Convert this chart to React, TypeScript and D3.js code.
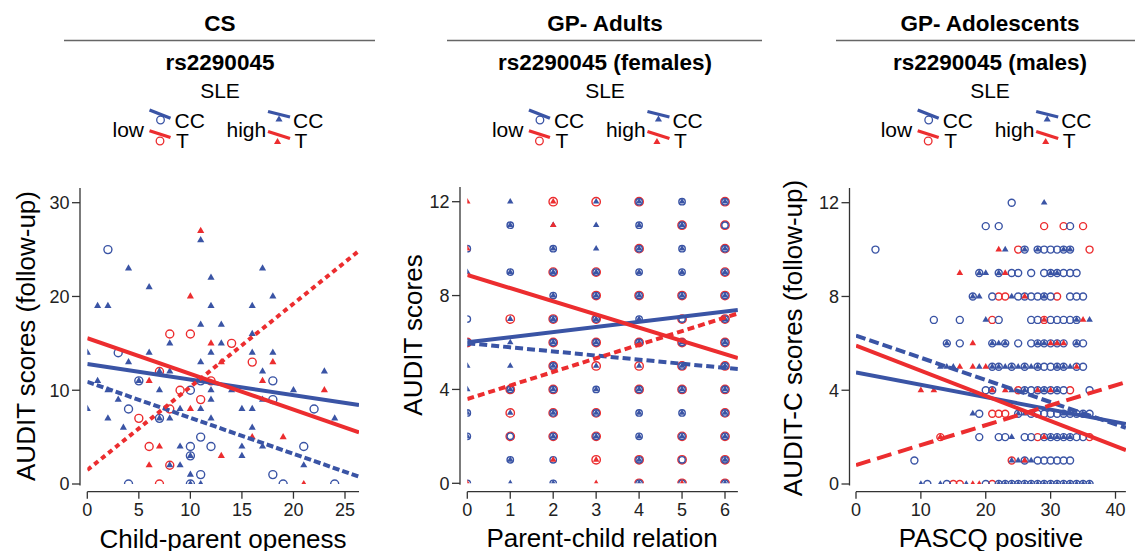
import React from 'react';
import * as d3 from 'd3';

type Pt = [number, number];
type Rows = [number, number[]][];

const BLUE = '#3A54A5';
const RED = '#EC2D2F';
const FONT = '"Liberation Sans", Arial, Helvetica, sans-serif';

// ---------------- Panel 1: CS ----------------
const csLowCC: Pt[] = [
  [2, 25], [3, 14], [4, 8], [4, 0], [5, 11], [7, 7], [10, 10], [10, 4], [10, 3], [10, 0],
  [11, 11], [11, 5], [11, 1], [12, 4], [18, 11], [18, 9], [18, 1], [19, 0], [21, 4], [22, 8], [24, 0],
];
const csLowT: Pt[] = [
  [5, 7], [6, 4], [7, 12], [7, 0], [8, 16], [8, 8], [8, 2], [9, 10], [10, 16], [11, 9], [12, 11], [14, 15], [16, 13],
];
const csHighCC: Pt[] = [
  [0, 14], [0, 8], [1, 11], [1, 19], [2, 19], [2, 10], [2, 7], [3, 9], [3.5, 6], [4, 23], [4, 13], [5, 11],
  [6, 21], [6, 14], [7, 12], [7, 10], [7, 7], [8, 15], [8, 12], [8, 7], [8, 2], [9, 8], [9, 4], [9, 2],
  [10, 3], [10, 1], [10, 0], [11, 26], [11, 17], [11, 13], [11, 8], [11, 0], [12, 22], [12, 19], [12, 14],
  [12, 10], [12, 9], [12, 7], [13, 17], [13, 15], [14, 10], [15, 8], [15, 4], [15, 3], [16, 19], [16, 16],
  [16, 14], [16, 8], [16, 6], [17, 23], [17, 12], [17, 9], [17, 4], [18, 20], [18, 14], [20, 10], [21, 2],
  [23, 12], [24, 7],
];
const csHighT: Pt[] = [
  [6, 11], [6, 2], [7, 4], [10, 20], [10, 8], [11, 27], [12, 15], [13, 13], [13, 3], [16, 5], [17, 11],
  [18, 13], [19, 5], [21, 0], [23, 10],
];
const csXTicks = [0, 5, 10, 15, 20, 25];
const csYTicks = [0, 10, 20, 30];
// [intercept, slope]
const csFitLowCC: Pt = [10.9, -0.384];
const csFitLowT: Pt = [1.49, 0.887];
const csFitHighCC: Pt = [12.8, -0.166];
const csFitHighT: Pt = [15.55, -0.381];

// ---------------- Panel 2: GP- Adults ----------------
const adLowTRows: Rows = [
  [12, [2, 3, 4, 6]], [11, [5, 6]], [10, [4, 6]], [9, [2, 3, 6]], [8, [3, 4, 5, 6]], [7, [1, 2, 3, 5, 6]],
  [6, [0, 2, 3, 4, 5, 6]], [5, [2, 3, 4, 5, 6]], [4, [1, 2, 4, 5, 6]], [3, [1, 2, 3, 6]], [2, [1, 2, 3, 5, 6]],
  [1, [3, 4, 5, 6]], [0, [4, 5, 6]],
];
const adLowCCRows: Rows = [
  [12, [4, 5, 6]], [11, [1, 4, 5, 6]], [10, [0, 2, 4, 5, 6]], [9, [1, 2, 3, 4, 5, 6]], [8, [2, 3, 4, 5, 6]],
  [7, [0, 2, 3, 4, 5, 6]], [6, [0, 2, 3, 4, 5, 6]], [5, [2, 5, 6]], [4, [1, 2, 3, 4, 5, 6]],
  [3, [0, 2, 3, 4, 5, 6]], [2, [0, 1, 2, 3, 4, 5, 6]], [1, [1, 2, 4, 5, 6]], [0, [0, 2, 4, 5, 6]],
];
const adHighCCRows: Rows = [
  [12, [1, 3, 4, 5, 6]], [11, [1, 2, 3, 4, 5]], [10, [2, 3, 4, 5, 6]], [9, [0, 1, 2, 3, 4, 5, 6]],
  [8, [2, 3, 4, 5, 6]], [7, [1, 2, 3, 4, 6]], [6, [1, 2, 3, 4, 5, 6]], [5, [0, 1, 2, 3, 4, 5, 6]],
  [4, [0, 1, 2, 3, 4, 5, 6]], [3, [0, 1, 2, 3, 4, 5, 6]], [2, [0, 2, 3, 4, 5, 6]], [1, [1, 4, 6]], [0, [1, 2, 4, 6]],
];
const adHighTRows: Rows = [
  [12, [0, 2]], [11, [2]], [10, [0]], [1, [2, 3]], [0, [0, 3, 5]],
];
const adXTicks = [0, 1, 2, 3, 4, 5, 6];
const adYTicks = [0, 4, 8, 12];
const adFitLowCC: Pt = [5.97, -0.175];
const adFitLowT: Pt = [3.59, 0.579];
const adFitHighCC: Pt = [6.01, 0.219];
const adFitHighT: Pt = [8.88, -0.563];

// ---------------- Panel 3: GP- Adolescents ----------------
const aoLowCCRows: Rows = [
  [12, [24]], [11, [20, 22, 33]], [10, [3, 26, 28, 29, 30, 31, 32, 33]],
  [9, [19, 22, 24, 25, 27, 29, 30, 31, 32, 33, 34]], [8, [18, 21, 25, 26, 27, 28, 29, 30, 33, 34, 35]],
  [7, [12, 16, 22, 27, 28, 30, 31, 32, 33, 34]], [6, [14, 16, 21, 23, 25, 27, 28, 29, 30, 31, 32, 34, 35]],
  [5, [21, 22, 24, 26, 28, 29, 30, 31, 32, 34, 35]], [4, [20, 21, 26, 27, 28, 29, 30, 31, 32, 36]],
  [3, [19, 25, 27, 28, 29, 30, 31, 32, 33, 34, 35, 36]], [2, [19, 22, 23, 26, 27, 29, 30, 31, 32, 33, 34, 35]],
  [1, [9, 26, 28, 29, 30, 31, 32, 33]],
  [0, [11, 14, 20, 22, 23, 24, 25, 26, 27, 28, 29, 30, 31, 32, 33, 34, 35, 36]],
];
const aoLowTRows: Rows = [
  [11, [29, 32, 35]], [10, [25, 36]], [8, [22, 23, 31]], [7, [21, 29]], [4, [25, 33]], [3, [21, 22, 23]],
  [2, [13, 28, 36]], [1, [24]], [0, [15, 16, 21]],
];
const aoHighCCRows: Rows = [
  [12, [29]], [10, [23, 26, 28, 32, 33]], [9, [19, 20, 22, 30, 31]], [8, [18, 19, 24, 29]], [7, [20, 34, 36]],
  [6, [14, 21, 22, 23, 28, 29, 31, 34]], [5, [13, 14, 15, 19, 21, 22, 23, 24, 25, 26, 27, 28, 31, 32, 33]],
  [4, [21, 24, 26, 28, 29, 31]], [3, [18, 25, 26, 32, 33]], [2, [24, 30, 31, 32, 33]], [1, [24, 25, 26, 27]],
  [0, [10, 13, 17, 22, 23, 24, 25, 26, 27, 28, 29, 30, 31, 32, 33, 34, 35, 36]],
];
const aoHighTRows: Rows = [
  [10, [22]], [9, [16, 23]], [8, [26]], [7, [29, 35]], [6, [18, 30, 31, 32]], [5, [16, 18, 20, 34]],
  [4, [10, 12, 21, 23, 28, 30]], [2, [13, 29]], [1, [26]], [0, [18, 19]],
];
const aoXTicks = [0, 10, 20, 30, 40];
const aoYTicks = [0, 4, 8, 12];
const aoFitLowCC: Pt = [6.33, -0.0946];
const aoFitLowT: Pt = [0.81, 0.085];
const aoFitHighCC: Pt = [4.76, -0.0528];
const aoFitHighT: Pt = [5.9, -0.107];

const expand = (rows: Rows): Pt[] => rows.flatMap(([yv, xs]) => xs.map((xv) => [xv, yv] as Pt));

const panels = [
  {
    key: 'cs', title: 'CS', sub: 'rs2290045', hdrCx: 220, hdrLine: [64, 375],
    xTitle: 'Child-parent openess', xTitleX: 223, xTitleY: 548,
    yTitle: 'AUDIT scores (follow-up)', yTitleX: 35, yTitleY: 336,
    axisX: 80, yTop: 188, xDom: [0, 25], xRange: [87.3, 345], xMax: 26.36,
    yDom: [0, 30], yRange: [484, 202.7], xTicks: csXTicks, yTicks: csYTicks,
    lowCC: csLowCC, lowT: csLowT, highCC: csHighCC, highT: csHighT,
    fits: { lowCC: csFitLowCC, lowT: csFitLowT, highCC: csFitHighCC, highT: csFitHighT },
    dash: { lowCC: '7 3', lowT: '5 4' }, rRed: 4.0, rBlue: 4.0, tri: 22,
  },
  {
    key: 'ad', title: 'GP- Adults', sub: 'rs2290045 (females)', hdrCx: 605, hdrLine: [447, 762],
    xTitle: 'Parent-child relation', xTitleX: 602, xTitleY: 547,
    yTitle: 'AUDIT scores', yTitleX: 421.5, yTitleY: 335,
    axisX: 460, yTop: 187, xDom: [0, 6], xRange: [467.3, 725], xMax: 6.3,
    yDom: [0, 12], yRange: [483.3, 201.7], xTicks: adXTicks, yTicks: adYTicks,
    lowCC: expand(adLowCCRows), lowT: expand(adLowTRows), highCC: expand(adHighCCRows), highT: expand(adHighTRows),
    fits: { lowCC: adFitLowCC, lowT: adFitLowT, highCC: adFitHighCC, highT: adFitHighT },
    dash: { lowCC: '8 4', lowT: '7 4' }, rRed: 4.2, rBlue: 3.2, tri: 18,
  },
  {
    key: 'ao', title: 'GP- Adolescents', sub: 'rs2290045 (males)', hdrCx: 990, hdrLine: [836, 1145],
    xTitle: 'PASCQ positive', xTitleX: 991, xTitleY: 547,
    yTitle: 'AUDIT-C scores (follow-up)', yTitleX: 801.5, yTitleY: 338,
    axisX: 849.5, yTop: 188, xDom: [0, 40], xRange: [856, 1115.5], xMax: 41.6,
    yDom: [0, 12], yRange: [484, 202.7], xTicks: aoXTicks, yTicks: aoYTicks,
    lowCC: expand(aoLowCCRows), lowT: expand(aoLowTRows), highCC: expand(aoHighCCRows), highT: expand(aoHighTRows),
    fits: { lowCC: aoFitLowCC, lowT: aoFitLowT, highCC: aoFitHighCC, highT: aoFitHighT },
    dash: { lowCC: '10 4', lowT: '15 7' }, rRed: 3.5, rBlue: 3.5, tri: 19,
  },
];

const AXIS_Y = 491.7;

function Panel({ p }: { p: any }) {
  const x = d3.scaleLinear().domain(p.xDom).range(p.xRange);
  const y = d3.scaleLinear().domain(p.yDom).range(p.yRange);
  const xEnd = x(p.xMax);
  const y0 = y(0);
  const clipId = `clip-${p.key}`;
  const cx = (p.axisX + xEnd) / 2;
  const tri = d3.symbol().type(d3.symbolTriangle).size(p.tri)() as string;
  const legTri = d3.symbol().type(d3.symbolTriangle).size(22)() as string;
  const line = d3.line<Pt>().x((d) => x(d[0])).y((d) => y(d[1]));
  const fitPts = (f: Pt): Pt[] => [[0, f[0]], [p.xMax, f[0] + f[1] * p.xMax]];

  return (
    <g>
      <defs>
        <clipPath id={clipId}>
          <rect x={x(0)} y={p.yTop} width={xEnd - x(0)} height={y0 - p.yTop} />
        </clipPath>
      </defs>
      {/* header */}
      <text x={p.hdrCx} y={30.5} textAnchor="middle" fontWeight="bold" fontSize={22.5}>{p.title}</text>
      <line x1={p.hdrLine[0]} x2={p.hdrLine[1]} y1={40.5} y2={40.5} stroke="#666" strokeWidth={1.3} />
      <text x={p.hdrCx} y={70} textAnchor="middle" fontWeight="bold" fontSize={22.5}>{p.sub}</text>
      <text x={p.hdrCx} y={98.3} textAnchor="middle" fontSize={21}>SLE</text>
      {/* legend */}
      <g fontSize={21}>
        <text x={cx - 107} y={137}>low</text>
        <line x1={cx - 70} y1={110} x2={cx - 49} y2={118.3} stroke={BLUE} strokeWidth={3.3} />
        <circle cx={cx - 59} cy={120} r={3.8} fill="none" stroke={BLUE} strokeWidth={1.3} />
        <line x1={cx - 70} y1={130.7} x2={cx - 49} y2={137.5} stroke={RED} strokeWidth={3.3} />
        <circle cx={cx - 59.5} cy={141} r={3.8} fill="none" stroke={RED} strokeWidth={1.3} />
        <text x={cx - 45} y={128.3}>CC</text>
        <text x={cx - 43.5} y={148.3}>T</text>
        <text x={cx + 7} y={137}>high</text>
        <line x1={cx + 48.5} y1={111.5} x2={cx + 70.5} y2={117} stroke={BLUE} strokeWidth={3.3} />
        <path d={legTri} transform={`translate(${cx + 59.5},${119.5})`} fill={BLUE} />
        <line x1={cx + 48.5} y1={131.5} x2={cx + 70.5} y2={138.5} stroke={RED} strokeWidth={3.3} />
        <path d={legTri} transform={`translate(${cx + 58},${142})`} fill={RED} />
        <text x={cx + 73.5} y={128.3}>CC</text>
        <text x={cx + 75} y={148.3}>T</text>
      </g>
      {/* axes */}
      <line x1={p.axisX} x2={p.axisX} y1={p.yTop} y2={y0 + 1.5} stroke="#333" strokeWidth={1.3} />
      {p.yTicks.map((t: number) => (
        <g key={`yt${t}`}>
          <line x1={p.axisX - 8} x2={p.axisX} y1={y(t)} y2={y(t)} stroke="#333" strokeWidth={1.3} />
          <text x={p.axisX - 10.5} y={y(t)} dy="0.36em" textAnchor="end" fontSize={18} fill="#222">{t}</text>
        </g>
      ))}
      <line x1={x(0)} x2={xEnd} y1={AXIS_Y} y2={AXIS_Y} stroke="#333" strokeWidth={1.3} />
      {p.xTicks.map((t: number) => (
        <g key={`xt${t}`}>
          <line x1={x(t)} x2={x(t)} y1={AXIS_Y} y2={AXIS_Y + 7} stroke="#333" strokeWidth={1.3} />
          <text x={x(t)} y={515.5} textAnchor="middle" fontSize={18} fill="#222">{t}</text>
        </g>
      ))}
      <text x={p.xTitleX} y={p.xTitleY} textAnchor="middle" fontSize={26}>{p.xTitle}</text>
      <text transform={`translate(${p.yTitleX},${p.yTitleY}) rotate(-90)`} textAnchor="middle" fontSize={26}>{p.yTitle}</text>
      {/* points */}
      <g clipPath={`url(#${clipId})`}>
        {p.lowT.map((d: Pt, i: number) => (
          <circle key={`lt${i}`} cx={x(d[0])} cy={y(d[1])} r={p.rRed} fill="none" stroke={RED} strokeWidth={1.4} />
        ))}
        {p.lowCC.map((d: Pt, i: number) => (
          <circle key={`lc${i}`} cx={x(d[0])} cy={y(d[1])} r={p.rBlue} fill="none" stroke={BLUE} strokeWidth={1.4} />
        ))}
        {p.highCC.map((d: Pt, i: number) => (
          <path key={`hc${i}`} d={tri} transform={`translate(${x(d[0])},${y(d[1])})`} fill={BLUE} />
        ))}
        {p.highT.map((d: Pt, i: number) => (
          <path key={`ht${i}`} d={tri} transform={`translate(${x(d[0])},${y(d[1])})`} fill={RED} />
        ))}
        <path d={line(fitPts(p.fits.highCC)) as string} stroke={BLUE} strokeWidth={4} fill="none" />
        <path d={line(fitPts(p.fits.highT)) as string} stroke={RED} strokeWidth={4} fill="none" />
        <path d={line(fitPts(p.fits.lowCC)) as string} stroke={BLUE} strokeWidth={4} fill="none" strokeDasharray={p.dash.lowCC} />
        <path d={line(fitPts(p.fits.lowT)) as string} stroke={RED} strokeWidth={4} fill="none" strokeDasharray={p.dash.lowT} />
      </g>
    </g>
  );
}

export default function App() {
  return (
    <svg
      width={1135}
      height={551}
      viewBox="0 0 1135 551"
      style={{ position: 'absolute', left: 0, top: 0, background: '#fff' }}
      fontFamily={FONT}
    >
      <rect x={0} y={0} width={1135} height={551} fill="#fff" />
      {panels.map((p) => (
        <Panel key={p.key} p={p} />
      ))}
    </svg>
  );
}
